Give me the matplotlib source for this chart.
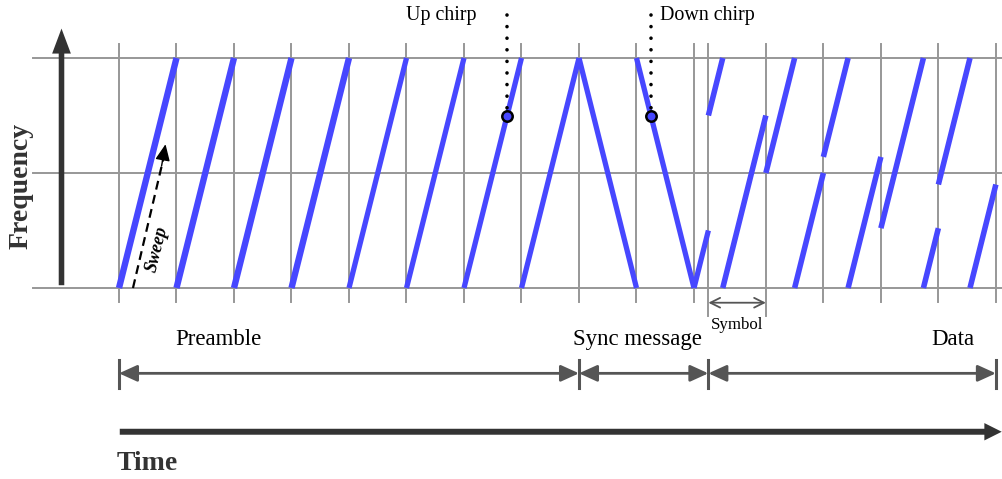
import matplotlib.pyplot as plt
from matplotlib.patches import FancyArrowPatch, ArrowStyle

plt.rcParams['font.family'] = ['Liberation Serif', 'DejaVu Serif']

# time is in symbols, frequency is a fraction of the bandwidth
n_preamble = 8
n_down = 2
sync_tail = 0.25
data_start = n_preamble + n_down + sync_tail
data_offsets = [0.75, 0.5, 0.57, 0.26, 0.45]

section_names = ['Preamble', 'Sync message', 'Data']
section_edges = [0, 8, 10.25, 15.25]
section_label_t = [1.73, 9.01, 14.5]

marker_t = [6.75, 9.25]
marker_f = 0.75
marker_names = ['Up chirp', 'Down chirp']

blue = '#4747ff'
grid_c = '#979797'
dark = '#333333'
mid = '#555555'

fig = plt.figure(figsize=(10.03, 4.79), dpi=100)
ax = fig.add_axes([0, 0, 1, 1])
ax.set_xlim(-119 / 57.5, (1003 - 119) / 57.5)
ax.set_ylim((288 - 479) / 230, 288 / 230)
ax.axis('off')

# grid
edges = list(range(0, n_preamble + n_down + 1)) + [data_start + k for k in range(len(data_offsets) + 1)]
for t in edges:
    low = -0.122 if t in (data_start, data_start + 1) else -0.061
    ax.plot([t, t], [low, 1.061], color=grid_c, lw=1.4, zorder=1)
for f in [0, 0.5, 1]:
    ax.plot([-1.5, 15.4], [f, f], color=grid_c, lw=1.4, zorder=1)


def chirp(t0, f0, lw):
    # up chirp starting at f0, wraps around at the top
    if f0 > 0:
        ax.plot([t0, t0 + 1 - f0], [f0, 1], color=blue, lw=lw, solid_capstyle='butt', zorder=3)
        ax.plot([t0 + 1 - f0, t0 + 1], [0, f0], color=blue, lw=lw, solid_capstyle='butt', zorder=3)
    else:
        ax.plot([t0, t0 + 1], [0, 1], color=blue, lw=lw, solid_capstyle='butt', zorder=3)


for k in range(n_preamble):
    chirp(k, 0, 4.6 if k < 4 else 3.8)
for k in range(n_down):
    t0 = n_preamble + k
    ax.plot([t0, t0 + 1], [1, 0], color=blue, lw=3.8, solid_capstyle='butt', zorder=3)
ax.plot([n_preamble + n_down, data_start], [0, sync_tail], color=blue, lw=3.8,
        solid_capstyle='butt', zorder=3)
for i, f0 in enumerate(data_offsets):
    chirp(data_start + i, f0, 4.0)

# frequency axis
ax.add_patch(FancyArrowPatch((-1.0, 0), (-1.0, 1.14),
                             arrowstyle=ArrowStyle.Simple(head_length=18, head_width=13.5, tail_width=4),
                             mutation_scale=1, color=dark, lw=0, zorder=4))
ax.text(-1.696, 0.443, 'Frequency', rotation=90, ha='center', va='center',
        fontsize=20, fontweight='bold', color=dark)

# time axis
ax.add_patch(FancyArrowPatch((-0.035, -0.625), (15.4, -0.625),
                             arrowstyle=ArrowStyle.Simple(head_length=12.5, head_width=12.5, tail_width=4.3),
                             mutation_scale=1, color=dark, lw=0, zorder=4))
ax.text(-0.035, -0.761, 'Time', ha='left', va='center', fontsize=20, fontweight='bold', color=dark)

# sweep arrow
ax.plot([0.243, 0.77], [0, 0.56], color='k', lw=1.6, ls=(0, (4, 2.5)), zorder=4)
ax.add_patch(FancyArrowPatch((0.74, 0.53), (0.809, 0.625), arrowstyle='-|>,head_length=10,head_width=4.5',
                             mutation_scale=1, color='k', lw=1, shrinkA=0, shrinkB=0, zorder=4))
ax.text(0.66, 0.17, 'Sweep', rotation=76, ha='center', va='center', fontsize=13,
        fontweight='bold', style='italic', color='k', rotation_mode='anchor')

# up / down chirp markers
for t, name in zip(marker_t, marker_names):
    ax.plot([t, t], [1.187, marker_f], color='k', lw=2.6, ls=(0, (0.01, 3.2)),
            dash_capstyle='round', zorder=4)
    ax.plot(t, marker_f, 'o', ms=7.5, mfc=blue, mec='k', mew=1.8, zorder=5)
ax.text(marker_t[0] - 0.53, 1.185, marker_names[0], ha='right', va='center', fontsize=14.4)
ax.text(marker_t[1] + 0.16, 1.185, marker_names[1], ha='left', va='center', fontsize=14.4)

# symbol width
ax.add_patch(FancyArrowPatch((data_start, -0.064), (data_start + 1, -0.064),
                             arrowstyle='<->,head_length=7,head_width=3.5', mutation_scale=1,
                             color=mid, lw=1.3, shrinkA=0, shrinkB=0, zorder=4))
ax.text(data_start + 0.5, -0.161, 'Symbol', ha='center', va='center', fontsize=12.2)

# sections
y_dim = -0.371
for a, b, name, lt in zip(section_edges[:-1], section_edges[1:], section_names, section_label_t):
    ax.add_patch(FancyArrowPatch((a, y_dim), (b, y_dim),
                                 arrowstyle='<|-|>,head_length=11,head_width=5', mutation_scale=1,
                                 color=mid, lw=2, shrinkA=0, shrinkB=0, zorder=4))
    ax.text(lt, -0.226, name, ha='center', va='center', fontsize=16.5)
for t in section_edges:
    ax.plot([t, t], [-0.313, -0.435], color=mid, lw=2.2, zorder=4)

fig.savefig('out.png', dpi=100)
